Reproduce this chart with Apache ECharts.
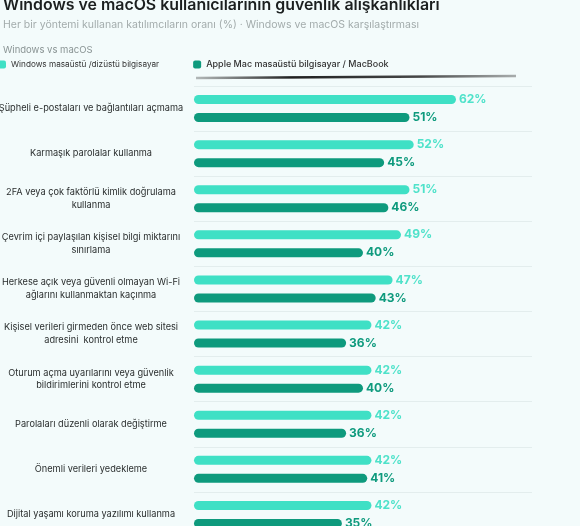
<!DOCTYPE html>
<html>
<head>
  <meta charset="utf-8">
  <title>Windows vs macOS</title>
  <script src="https://cdn.jsdelivr.net/npm/echarts@6/dist/echarts.min.js"></script>
  <style>
    html, body { margin: 0; padding: 0; background: #f3fbfb; }
    #main { width: 580px; height: 526px; }
  </style>
</head>
<body>
  <div id="main"></div>
  <script type="text/javascript">
    // kategoriler (yukaridan asagiya)
    var categories = [
      'Şüpheli e-postaları ve bağlantıları açmama',
      'Karmaşık parolalar kullanma',
      '2FA veya çok faktörlü kimlik doğrulama\nkullanma',
      'Çevrim içi paylaşılan kişisel bilgi miktarını\nsınırlama',
      'Herkese açık veya güvenli olmayan Wi-Fi\nağlarını kullanmaktan kaçınma',
      'Kişisel verileri girmeden önce web sitesi\nadresini  kontrol etme',
      'Oturum açma uyarılarını veya güvenlik\nbildirimlerini kontrol etme',
      'Parolaları düzenli olarak değiştirme',
      'Önemli verileri yedekleme',
      'Dijital yaşamı koruma yazılımı kullanma'
    ]
    var seriesNames = ['Windows masaüstü /dizüstü bilgisayar', 'Apple Mac masaüstü bilgisayar / MacBook']
    var windowsValues = [62, 52, 51, 49, 47, 42, 42, 42, 42, 42]
    var macValues = [51, 45, 46, 40, 43, 36, 40, 36, 41, 35]

    var lightColor = '#3fe0c5'
    var darkColor = '#0e9a7d'
    var font = 'Inter, "Noto Sans", sans-serif'

    var myChart = echarts.init(document.getElementById('main'))

    var option = {
      backgroundColor: '#f3fbfb',
      title: [{
        text: 'Windows ve macOS kullanıcılarının güvenlik alışkanlıkları',
        left: -2,
        top: -8,
        textStyle: { fontSize: 15.9, fontWeight: 600, color: '#1b1f1f', fontFamily: font }
      }, {
        text: 'Her bir yöntemi kullanan katılımcıların oranı (%) · Windows ve macOS karşılaştırması',
        left: -2,
        top: 14,
        textStyle: { fontSize: 10.5, fontWeight: 'normal', color: '#a3acac', fontFamily: font }
      }, {
        text: 'Windows vs macOS',
        left: -2,
        top: 40,
        textStyle: { fontSize: 9.5, fontWeight: 'normal', color: '#8a9494', fontFamily: font }
      }],
      legend: {
        data: [
          { name: seriesNames[0], textStyle: { fontSize: 8.2 } },
          { name: seriesNames[1], textStyle: { fontSize: 9, fontWeight: 500 } }
        ],
        left: -7,
        top: 55,
        itemWidth: 8,
        itemHeight: 8,
        itemGap: 34,
        icon: 'roundRect',
        textStyle: { color: '#333', fontFamily: font, padding: [0, 0, 0, 0] }
      },
      // ekran kenarindaki koyu cizgi
      graphic: [{
        type: 'line',
        shape: { x1: 196, y1: 78, x2: 516, y2: 76 },
        style: {
          lineWidth: 2.5,
          stroke: new echarts.graphic.LinearGradient(0, 0, 1, 0, [
            { offset: 0, color: 'rgba(40,40,40,0.3)' },
            { offset: 0.3, color: 'rgba(20,20,20,0.95)' },
            { offset: 0.7, color: 'rgba(40,40,40,0.85)' },
            { offset: 1, color: 'rgba(60,60,60,0.4)' }
          ])
        }
      }],
      grid: {
        left: 194,
        right: 48,
        top: 86,
        height: 451,
        containLabel: false,
        outerBoundsMode: 'none'
      },
      xAxis: {
        type: 'value',
        min: 0,
        max: 80,
        show: false
      },
      yAxis: {
        type: 'category',
        data: categories,
        inverse: true,
        axisLine: { show: false },
        axisTick: { show: false },
        splitLine: { show: true, lineStyle: { color: '#e3eded', width: 1 } },
        axisLabel: {
          align: 'center',
          margin: 103,
          fontSize: 9.2,
          lineHeight: 12.7,
          padding: [8, 0, 0, 0],
          color: '#2a2e2e',
          fontFamily: font
        }
      },
      series: [{
        name: seriesNames[0],
        type: 'bar',
        data: windowsValues,
        barWidth: 9,
        barGap: '100%',
        itemStyle: { color: lightColor, borderRadius: 4.5 },
        label: {
          show: true,
          position: 'right',
          distance: 3,
          formatter: '{c}%',
          color: '#4fe2ca',
          fontSize: 12,
          fontWeight: 'bold',
          fontFamily: font
        }
      }, {
        name: seriesNames[1],
        type: 'bar',
        data: macValues,
        barWidth: 9,
        itemStyle: { color: darkColor, borderRadius: 4.5 },
        label: {
          show: true,
          position: 'right',
          distance: 3,
          formatter: '{c}%',
          color: darkColor,
          fontSize: 12,
          fontWeight: 'bold',
          fontFamily: font
        }
      }]
    }

    myChart.setOption(option)
  </script>
</body>
</html>
